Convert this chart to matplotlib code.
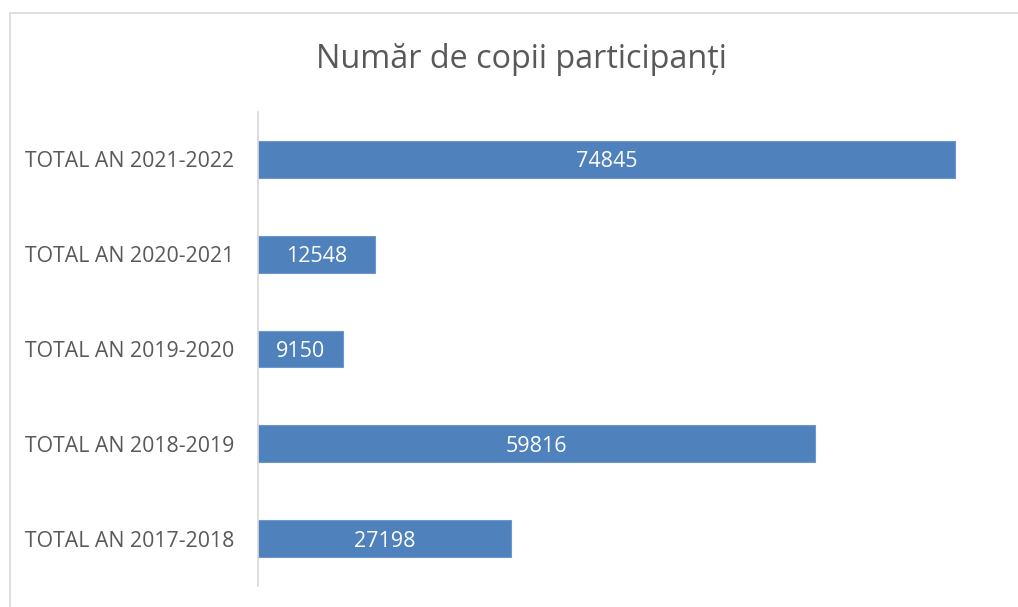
import matplotlib
matplotlib.use("Agg")
import matplotlib.pyplot as plt
from matplotlib.lines import Line2D
from matplotlib.transforms import offset_copy

categories = ["TOTAL AN 2017-2018", "TOTAL AN 2018-2019", "TOTAL AN 2019-2020",
              "TOTAL AN 2020-2021", "TOTAL AN 2021-2022"]
values = [27198, 59816, 9150, 12548, 74845]
title = "Număr de copii participanți"

plt.rcParams['font.family'] = ['Open Sans', 'DejaVu Sans']

W, H = 1018, 607
fig = plt.figure(figsize=(W / 100, H / 100), dpi=100)
ax = fig.add_axes([258 / W, 1 - 586 / H, (1003 - 258) / W, (586 - 112) / H])

bar_color = "#4F81BD"
ys = list(range(len(categories)))
bars = ax.barh(ys, values, height=0.39, color=bar_color, edgecolor="#6E97CB", linewidth=0.8)
tr = offset_copy(ax.transData, fig=fig, x=0, y=-2.5, units="dots")
for y, v in zip(ys, values):
    ax.text(v / 2, y, str(v), ha="center", va="center", color="white", fontsize=15.5,
            transform=tr)

ax.set_xlim(0, 80000)
ax.set_ylim(-0.5, len(categories) - 0.5)
ax.set_yticks(ys)
ax.set_yticklabels(categories, fontsize=15.3, color="#595959")
ax.tick_params(axis="y", length=0, pad=17)
ax.set_xticks([])
for s in ["top", "right", "bottom"]:
    ax.spines[s].set_visible(False)
ax.spines["left"].set_color("#D9D9D9")
ax.spines["left"].set_linewidth(1.2)

fig.text(521 / W, 1 - 60 / H, title, ha="center", va="center", fontsize=23.3, color="#595959")

# chart frame (left and top edges)
fig.add_artist(Line2D([10 / W, 10 / W, 1.0], [0.0, 1 - 13 / H, 1 - 13 / H],
                      transform=fig.transFigure, color="#D9D9D9", linewidth=1.2))

fig.savefig("out.png", dpi=100, facecolor="white")
